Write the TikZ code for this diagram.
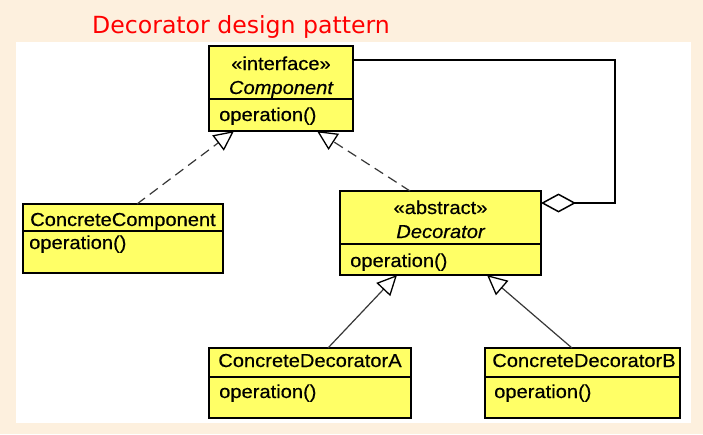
\documentclass[tikz,border=0pt]{standalone}
\usepackage{fontspec}
\newfontfamily\boxfont[FakeStretch=1.07,FakeBold=0.4]{Liberation Sans}
\newfontfamily\titlefont{DejaVu Sans}
\usetikzlibrary{arrows.meta,calc}
\definecolor{bgpeach}{RGB}{253,240,222}
\definecolor{umlyellow}{RGB}{255,255,102}
\definecolor{linegray}{RGB}{55,55,55}
\definecolor{titlered}{RGB}{255,0,0}
\begin{document}
\begin{tikzpicture}[x=1pt,y=-1pt,
  box/.style={draw=black, line width=1.7pt, fill=umlyellow, anchor=north west, inner sep=0pt, outer sep=0pt},
  lbl/.style={font=\boxfont\fontsize{18.8}{20}\selectfont, inner sep=0pt, anchor=base},
  lblL/.style={lbl, anchor=base west},
  lblI/.style={font=\boxfont\itshape\fontsize{18.8}{20}\selectfont, inner sep=0pt, anchor=base},
  opentri/.tip={Triangle[length=20pt,width=19pt,fill=white,color=black,line width=1.3pt]},
  realize/.style={draw=linegray, line width=1.2pt, dash pattern=on 10pt off 6pt, -opentri},
  inherit/.style={draw=linegray, line width=1.2pt, -opentri},
  agg/.style={draw=black, line width=1.8pt, -{Diamond[length=35pt,width=19pt,fill=white,line width=1.5pt]}}
]
\useasboundingbox (0,0) rectangle (703,434);
\fill[bgpeach] (0,0) rectangle (703,434);
\fill[white] (16,42) rectangle (691,423);

\node[font=\titlefont\fontsize{23.6}{26}\selectfont, text=titlered, inner sep=0pt, anchor=base west] (title) at (92,33) {Decorator design pattern};

% Component
\node[box, minimum width=144pt, minimum height=53pt] (comp) at (209,46) {};
\node[box, minimum width=144pt, minimum height=32pt] (compop) at (comp.south west) {};
\node[lbl] (compst) at (281,70) {«interface»};
\node[lblI] (compname) at (281,94) {Component};
\node[lblL] (compopl) at (219,121) {operation()};

% ConcreteComponent
\node[box, minimum width=200pt, minimum height=27pt] (cc) at (23,204) {};
\node[box, minimum width=200pt, minimum height=42pt] (ccop) at (cc.south west) {};
\node[lbl] (ccname) at (123,226) {ConcreteComponent};
\node[lblL] (ccopl) at (29,249) {operation()};

% Decorator
\node[box, minimum width=201pt, minimum height=53pt] (dec) at (340,191) {};
\node[box, minimum width=201pt, minimum height=31pt] (decop) at (dec.south west) {};
\node[lbl] (decst) at (440.5,214) {«abstract»};
\node[lblI] (decname) at (440.5,238) {Decorator};
\node[lblL] (decopl) at (350,267) {operation()};

% ConcreteDecoratorA
\node[box, minimum width=202pt, minimum height=29pt] (cda) at (209,348) {};
\node[box, minimum width=202pt, minimum height=41pt] (cdaop) at (cda.south west) {};
\node[lbl] (cdaname) at (310,367) {ConcreteDecoratorA};
\node[lblL] (cdaopl) at (219,398) {operation()};

% ConcreteDecoratorB
\node[box, minimum width=195pt, minimum height=29pt] (cdb) at (485,348) {};
\node[box, minimum width=195pt, minimum height=41pt] (cdbop) at (cdb.south west) {};
\node[lbl] (cdbname) at (584,367) {ConcreteDecoratorB};
\node[lblL] (cdbopl) at (494,398) {operation()};

% connectors
\coordinate (ccTop) at ($(cc.north west)+(114,0)$);
\coordinate (compTipA) at ($(compop.south west)+(25,0)$);
\coordinate (decTop) at ($(dec.north west)+(70,0)$);
\coordinate (compTipB) at ($(compop.south west)+(108,0)$);
\coordinate (cdaTop) at ($(cda.north west)+(119,0)$);
\coordinate (decTipA) at ($(decop.south west)+(57,0)$);
\coordinate (cdbTop) at ($(cdb.north west)+(87,0)$);
\coordinate (decTipB) at ($(decop.south west)+(147,0)$);
\coordinate (aggStart) at ($(comp.north east)+(0,14)$);
\coordinate (aggCorner) at (615,203);
\coordinate (aggEnd) at ($(dec.north east)+(0,12)$);

\draw[realize] (ccTop) -- (compTipA);
\draw[realize] (decTop) -- (compTipB);
\draw[inherit] (cdaTop) -- (decTipA);
\draw[inherit] (cdbTop) -- (decTipB);
\draw[agg] (aggStart) -| (aggCorner) -- (aggEnd);
\end{tikzpicture}
\end{document}
